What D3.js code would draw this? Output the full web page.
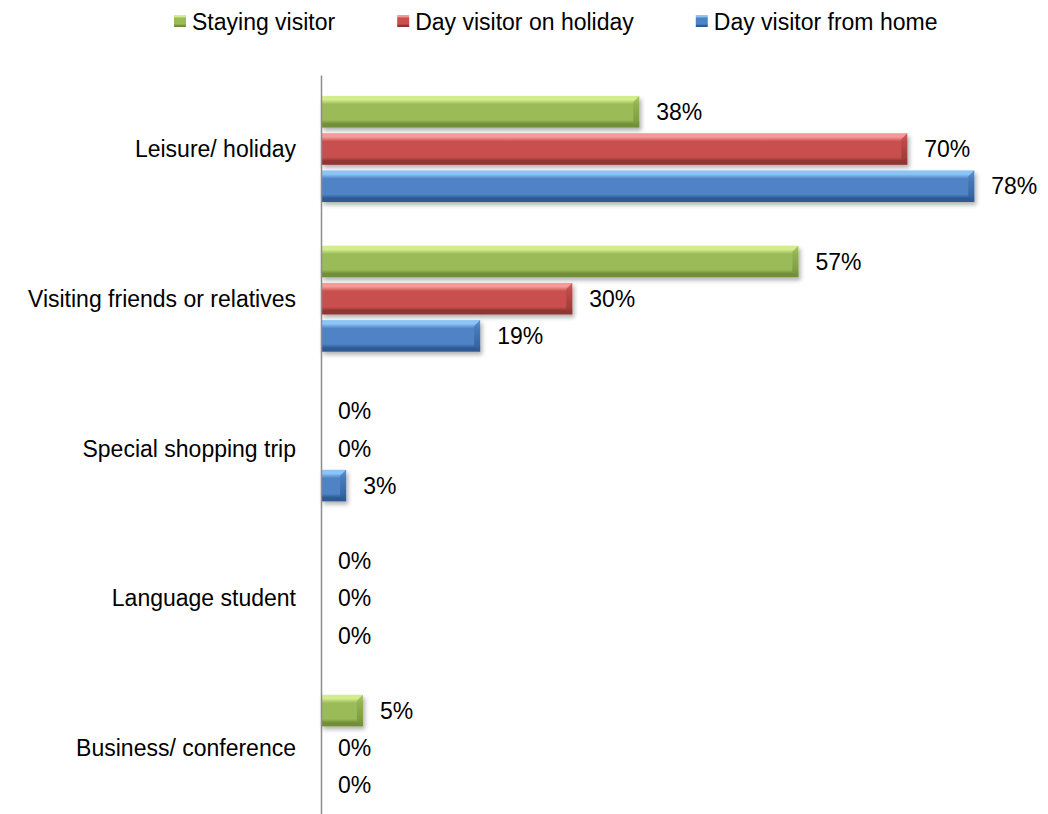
<script src="https://d3js.org/d3.v7.min.js"></script>

<style>
  body { margin: 0; background: #fff; }
  text { font-family: "Liberation Sans", Arial, sans-serif; fill: #000; }
</style>

<body>
  <div id="chart"></div>
</body>

<script>
// data
var categories = ["Leisure/ holiday", "Visiting friends or relatives", "Special shopping trip", "Language student", "Business/ conference"]
var series = ["Staying visitor", "Day visitor on holiday", "Day visitor from home"]
var staying = [0.38, 0.57, 0, 0, 0.05]
var dayHoliday = [0.70, 0.30, 0, 0, 0]
var dayHome = [0.78, 0.19, 0.03, 0, 0]

var values = [staying, dayHoliday, dayHome]
var colors = [
  {light: "#d3ec8c", mid: "#9bbb59", dark: "#728f38"},
  {light: "#f59a98", mid: "#c8504d", dark: "#8f3432"},
  {light: "#8cc4f5", mid: "#4f83c6", dark: "#2d5a94"}
]

var width = 1048, height = 814
var fontSize = 23

var svg = d3.select("#chart").append("svg")
  .attr("width", width)
  .attr("height", height)

var defs = svg.append("defs")

// drop shadow under the bars
var shadow = defs.append("filter").attr("id", "shadow")
  .attr("x", "-10%").attr("y", "-20%").attr("width", "130%").attr("height", "160%")
shadow.append("feDropShadow")
  .attr("dx", 2).attr("dy", 3).attr("stdDeviation", 2)
  .attr("flood-color", "#000").attr("flood-opacity", 0.3)

colors.forEach(function(c, i){
  var g = defs.append("linearGradient").attr("id", "grad" + i)
    .attr("x1", 0).attr("y1", 0).attr("x2", 0).attr("y2", 1)
  g.append("stop").attr("offset", "0%").attr("stop-color", c.light)
  g.append("stop").attr("offset", "12%").attr("stop-color", c.light)
  g.append("stop").attr("offset", "26%").attr("stop-color", c.mid)
  g.append("stop").attr("offset", "76%").attr("stop-color", c.mid)
  g.append("stop").attr("offset", "88%").attr("stop-color", c.dark)
  g.append("stop").attr("offset", "100%").attr("stop-color", c.dark)

  var e = defs.append("linearGradient").attr("id", "end" + i)
    .attr("x1", 0).attr("y1", 0).attr("x2", 0).attr("y2", 1)
  e.append("stop").attr("offset", "0%").attr("stop-color", c.mid)
  e.append("stop").attr("offset", "100%").attr("stop-color", c.dark)
})

// scales
var x = d3.scaleLinear()
  .domain([0, 0.8])
  .range([321, 991])

var y0 = d3.scaleBand()
  .domain(categories)
  .range([75, 823.5])

var y1 = d3.scaleBand()
  .domain(series)
  .range([21, 127])
  .paddingInner(0.15)

// bars
var rows = []
categories.forEach(function(cat, ci){
  series.forEach(function(s, si){
    rows.push({cat: cat, s: s, si: si, v: values[si][ci]})
  })
})

var bars = svg.append("g")

var bar = bars.selectAll("g.bar")
  .data(rows.filter(function(d){ return d.v > 0 }))
  .enter()
  .append("g")
  .attr("class", "bar")
  .attr("filter", "url(#shadow)")

bar.append("rect")
  .attr("x", x(0))
  .attr("y", function(d){ return y0(d.cat) + y1(d.s) })
  .attr("width", function(d){ return x(d.v) - x(0) })
  .attr("height", y1.bandwidth())
  .attr("fill", function(d){ return "url(#grad" + d.si + ")" })

// bevel on the right end
bar.append("polygon")
  .attr("points", function(d){
    var x1 = x(d.v), top = y0(d.cat) + y1(d.s), h = y1.bandwidth(), b = 6
    return [[x1 - b, top + b], [x1, top], [x1, top + h], [x1 - b, top + h - b]].join(" ")
  })
  .attr("fill", function(d){ return "url(#end" + d.si + ")" })
  .attr("opacity", 0.85)

// value labels
svg.append("g").selectAll("text")
  .data(rows)
  .enter()
  .append("text")
  .attr("x", function(d){ return x(d.v) + 17 })
  .attr("y", function(d){ return y0(d.cat) + y1(d.s) + y1.bandwidth() / 2 })
  .attr("dy", "0.36em")
  .style("font-size", fontSize + "px")
  .text(function(d){ return Math.round(d.v * 100) + "%" })

// category axis
var axis = svg.append("g")
  .attr("transform", "translate(" + x(0) + ",0)")
  .call(d3.axisLeft(y0).tickSize(0).tickPadding(25))

axis.select(".domain")
  .attr("stroke", "#8c8c8c")
  .attr("stroke-width", 1.5)

axis.selectAll("text")
  .style("font-family", '"Liberation Sans", Arial, sans-serif')
  .style("font-size", fontSize + "px")
  .attr("fill", "#000")

// legend
var legend = svg.append("g")
var lx = 174
series.forEach(function(s, i){
  var item = legend.append("g").attr("transform", "translate(" + lx + ",0)")
  item.append("rect")
    .attr("x", 0).attr("y", 15)
    .attr("width", 12).attr("height", 12)
    .attr("fill", "url(#grad" + i + ")")
  var t = item.append("text")
    .attr("x", 18).attr("y", 22)
    .attr("dy", "0.36em")
    .style("font-size", fontSize + "px")
    .text(s)
  lx += 18 + t.node().getComputedTextLength() + 62
})
</script>
